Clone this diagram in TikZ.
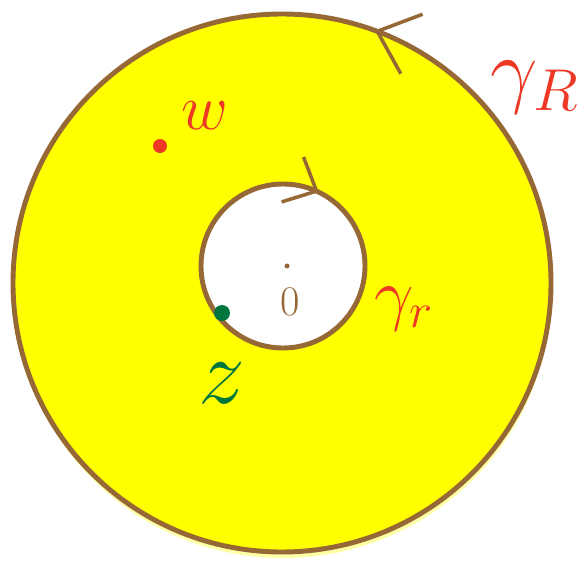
\RequirePackage{fix-cm}
\documentclass[tikz,border=0pt]{standalone}
\usepackage{amsmath,amssymb}
\usepackage{tikz}
\usetikzlibrary{decorations.markings,arrows.meta}
\definecolor{pen}{RGB}{150,104,54}
\definecolor{ink}{RGB}{236,56,36}
\definecolor{leaf}{RGB}{0,118,60}
\definecolor{sun}{RGB}{255,255,0}
\definecolor{pale}{RGB}{255,255,165}

\begin{document}
\begin{tikzpicture}[x=0.03cm,y=-0.03cm,
  rim/.style={pen,line width=4.2pt},
  dot/.style={circle,fill=#1,inner sep=0pt},
  big/.style={font=\fontsize{#1}{#1}\selectfont},
  flowccw/.style={decoration={markings,mark=at position #1 with {\arrowreversed[pen,line width=3pt]{Straight Barb[length=1.1cm,width=1.9cm]}}},postaction={decorate}},
  flowcw/.style={decoration={markings,mark=at position #1 with {\arrow[pen,line width=3pt]{Straight Barb[length=0.8cm,width=1.5cm]}}},postaction={decorate}}]
  \useasboundingbox (0,0) rectangle (581,564);
  \fill[pale] (283,292) ellipse[x radius=268,y radius=266];
  \draw[rim,fill=sun,flowccw=0.806] (282,283) circle[radius=269];
  \draw[rim,fill=white,flowcw=0.822] (283,266) circle[radius=82];
  \foreach \n/\p/\c/\s in {pw/{(160,146)}/ink/0.42cm,pz/{(222,313)}/leaf/0.48cm,po/{(287,266)}/pen/0.15cm}
    \node[dot=\c,minimum size=\s] (\n) at \p {};
  \node[ink,big=55,anchor=base] (w) at (205,130) {$w$};
  \node[leaf,big=80] (z) at (222,383) {$z$};
  \node[pen,big=36] (zero) at (290,302) {0};
  \node[ink,big=60,anchor=base west] (gr) at (370,317) {$\gamma_r$};
  \node[ink,big=72,anchor=base west,inner sep=0pt] (gR) at (490,98) {$\gamma_R$};
\end{tikzpicture}
\end{document}
